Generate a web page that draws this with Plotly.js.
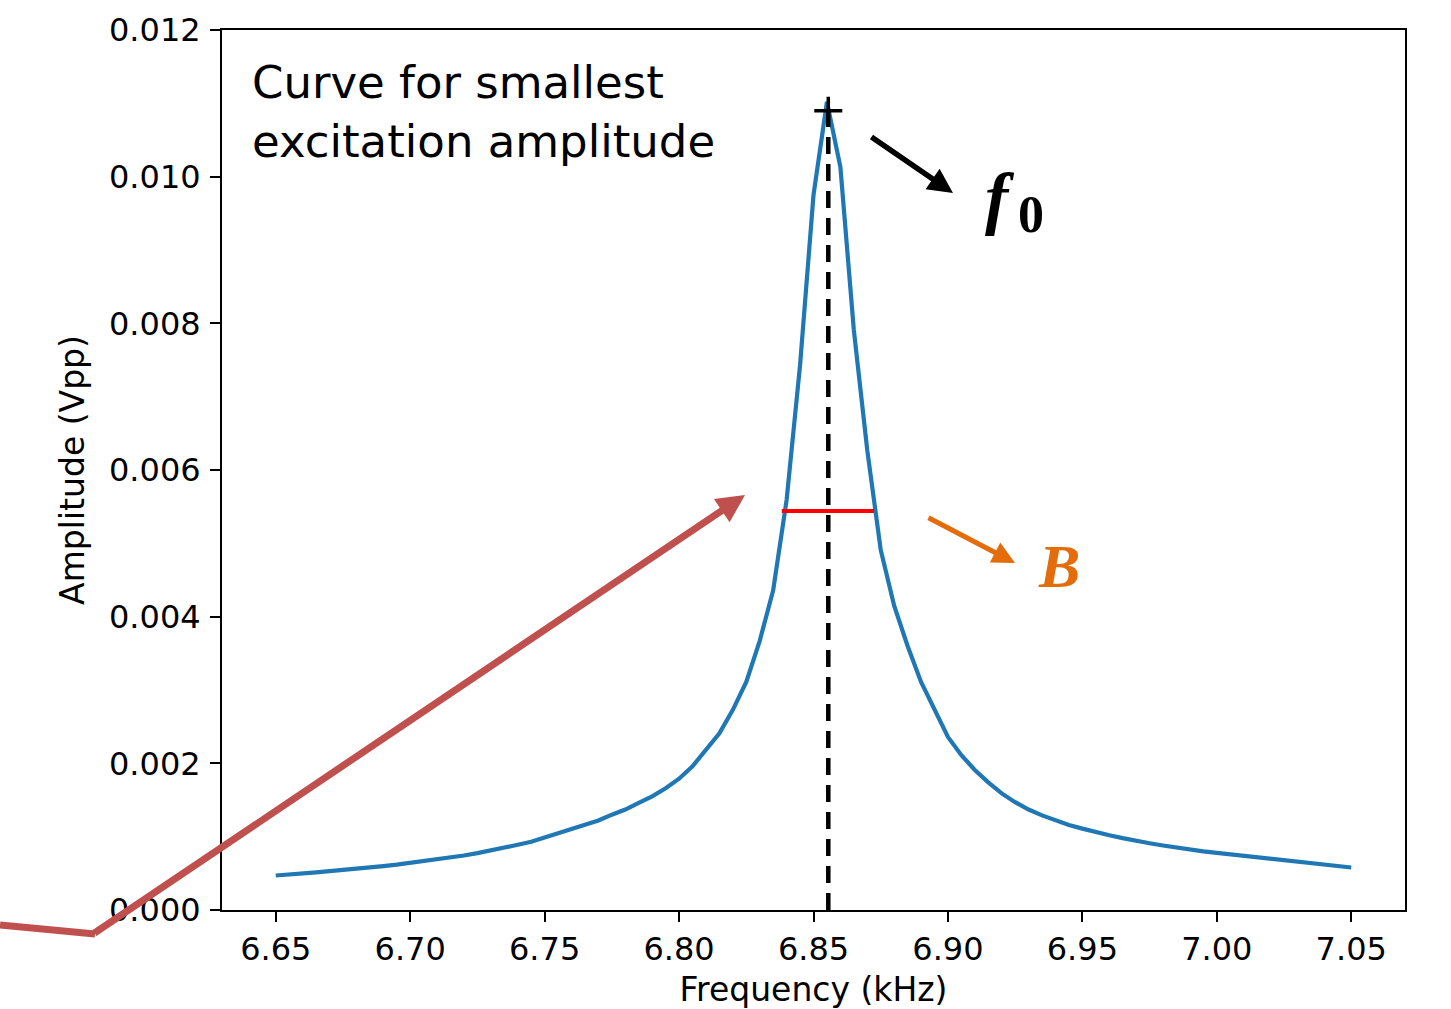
<!DOCTYPE html>
<html>
<head>
<meta charset="utf-8">
<script src="https://cdn.plot.ly/plotly-3.0.1.min.js"></script>
<style>html,body{margin:0;padding:0;background:#fff;}#chart{width:1451px;height:1009px;}</style>
</head>
<body>
<div id="chart"></div>
<script>
// Frequency samples (kHz)
const freqKHz = [6.650,6.655,6.660,6.665,6.670,6.675,6.680,6.685,6.690,6.695,
  6.700,6.705,6.710,6.715,6.720,6.725,6.730,6.735,6.740,6.745,
  6.750,6.755,6.760,6.765,6.770,6.775,6.780,6.785,6.790,6.795,
  6.800,6.805,6.810,6.815,6.820,6.825,6.830,6.835,6.840,6.845,
  6.850,6.855,6.860,6.865,6.870,6.875,6.880,6.885,6.890,6.895,
  6.900,6.905,6.910,6.915,6.920,6.925,6.930,6.935,6.940,6.945,
  6.950,6.955,6.960,6.965,6.970,6.975,6.980,6.985,6.990,6.995,
  7.000,7.005,7.010,7.015,7.020,7.025,7.030,7.035,7.040,7.045,7.050];
// Amplitude (Vpp)
const amplitudeVpp = [0.000470,0.000481,0.000498,0.000514,0.000529,0.000544,0.000562,0.000580,0.000599,0.000619,
  0.000641,0.000664,0.000689,0.000715,0.000743,0.000775,0.000810,0.000848,0.000889,0.000931,
  0.000990,0.00104,0.00110,0.00116,0.00122,0.00130,0.00137,0.00146,0.00155,0.00166,
  0.00179,0.00196,0.00218,0.00241,0.00273,0.00311,0.00367,0.00436,0.00559,0.00743,
  0.00975,0.01102,0.01013,0.00791,0.00627,0.00491,0.00415,0.00360,0.00311,0.00273,
  0.00236,0.00211,0.00191,0.00174,0.00159,0.00147,0.00137,0.00129,0.00122,0.00116,
  0.00111,0.00106,0.00102,0.00098,0.00094,0.00091,0.00088,0.00085,0.00082,0.00080,
  0.00078,0.00076,0.00074,0.00072,0.00070,0.00068,0.00066,0.00064,0.00062,0.00060,0.00058];
// Resonance frequency marker
const f0X = [6.8555, 6.8555];
const f0Y = [0, 0.0109];
const f0MarkX = [6.8555];
const f0MarkY = [0.0109];
// Bandwidth (half-maximum) segment
const bwX = [6.8382, 6.8725];
const bwY = [0.00544, 0.00544];
// Ticks
const xTickVals = [6.65,6.70,6.75,6.80,6.85,6.90,6.95,7.00,7.05];
const xTickText = ["6.65","6.70","6.75","6.80","6.85","6.90","6.95","7.00","7.05"];
const yTickVals = [0,0.002,0.004,0.006,0.008,0.010,0.012];
const yTickText = ["0.000","0.002","0.004","0.006","0.008","0.010","0.012"];

const traces = [
  {x: freqKHz, y: amplitudeVpp, type: 'scatter', mode: 'lines',
   line: {color: '#1f77b4', width: 4.2}, hoverinfo: 'skip'},
  {x: f0X, y: f0Y, type: 'scatter', mode: 'lines',
   line: {color: '#000000', width: 4.5, dash: '17px,10px'}, hoverinfo: 'skip'},
  {x: f0MarkX, y: f0MarkY, type: 'scatter', mode: 'markers',
   marker: {symbol: 'cross-thin', size: 20, color: '#000', line: {color: '#000', width: 3.5}}, hoverinfo: 'skip'},
  {x: bwX, y: bwY, type: 'scatter', mode: 'lines',
   line: {color: '#ff0000', width: 4}, hoverinfo: 'skip'}
];

const W = 1451, H = 1009, L = 222, R = 46, T = 30, B = 99;
const pw = W - L - R, ph = H - T - B;
function px(x){ return (x - L) / pw; }
function py(y){ return (T + ph - y) / ph; }

const layout = {
  width: W, height: H,
  margin: {l: L, r: R, t: T, b: B, pad: 0},
  paper_bgcolor: '#fff', plot_bgcolor: '#fff',
  showlegend: false,
  font: {family: 'DejaVu Sans', size: 32, color: '#000'},
  xaxis: {
    range: [6.63, 7.07], tickvals: xTickVals, ticktext: xTickText,
    showline: true, mirror: true, linecolor: '#000', linewidth: 2,
    ticks: 'outside', ticklen: 10, tickwidth: 2, tickcolor: '#000',
    showgrid: false, zeroline: false, ticklabelstandoff: 0,
    tickfont: {family: 'DejaVu Sans', size: 32, color: '#000'},
    title: {text: 'Frequency (kHz)', font: {family: 'DejaVu Sans', size: 33, color: '#000'}, standoff: 23}
  },
  yaxis: {
    range: [0, 0.012], tickvals: yTickVals, ticktext: yTickText,
    showline: true, mirror: true, linecolor: '#000', linewidth: 2,
    ticks: 'outside', ticklen: 10, tickwidth: 2, tickcolor: '#000',
    showgrid: false, zeroline: false, ticklabelstandoff: 3,
    tickfont: {family: 'DejaVu Sans', size: 32, color: '#000'},
    title: {text: 'Amplitude (Vpp)', font: {family: 'DejaVu Sans', size: 33, color: '#000'}, standoff: 14}
  },
  shapes: [
    {type: 'line', xref: 'paper', yref: 'paper', layer: 'above',
     x0: px(0), y0: py(925), x1: px(95), y1: py(934),
     line: {color: '#C0504D', width: 7}}
  ],
  annotations: [
    {xref: 'paper', yref: 'paper', x: px(250), y: py(54), xanchor: 'left', yanchor: 'top',
     text: 'Curve for smallest<br>excitation amplitude', showarrow: false, align: 'left',
     font: {family: 'DejaVu Sans', size: 45, color: '#000'}},
    {xref: 'paper', yref: 'paper', x: px(953), y: py(193), text: '', showarrow: true,
     ax: 870 - 953, ay: 136 - 193, arrowhead: 2, arrowsize: 0.9, arrowwidth: 5.5, arrowcolor: '#000', standoff: 0},
    {xref: 'paper', yref: 'paper', x: px(1000), y: py(157), text: '<b><i>f</i></b>', showarrow: false,
     font: {family: 'Liberation Serif', size: 70, color: '#000'}},
    {xref: 'paper', yref: 'paper', x: px(1016), y: py(184), xanchor: 'left', text: '<b>0</b>', showarrow: false,
     font: {family: 'Liberation Serif', size: 52, color: '#000'}},
    {xref: 'paper', yref: 'paper', x: px(1015), y: py(563), text: '', showarrow: true,
     ax: 927 - 1015, ay: 517 - 563, arrowhead: 2, arrowsize: 0.9, arrowwidth: 5, arrowcolor: '#E46C0A', standoff: 0},
    {xref: 'paper', yref: 'paper', x: px(1082), y: py(566), text: '<b><i>B</i></b>', showarrow: false,
     font: {family: 'Liberation Serif', size: 62, color: '#E46C0A'}},
    {xref: 'paper', yref: 'paper', x: px(745), y: py(495), text: '', showarrow: true,
     ax: 93 - 745, ay: 934 - 495, arrowhead: 2, arrowsize: 0.8, arrowwidth: 7, arrowcolor: '#C0504D', standoff: 0}
  ]
};

Plotly.newPlot('chart', traces, layout, {displayModeBar: false, staticPlot: true});
</script>
</body>
</html>
